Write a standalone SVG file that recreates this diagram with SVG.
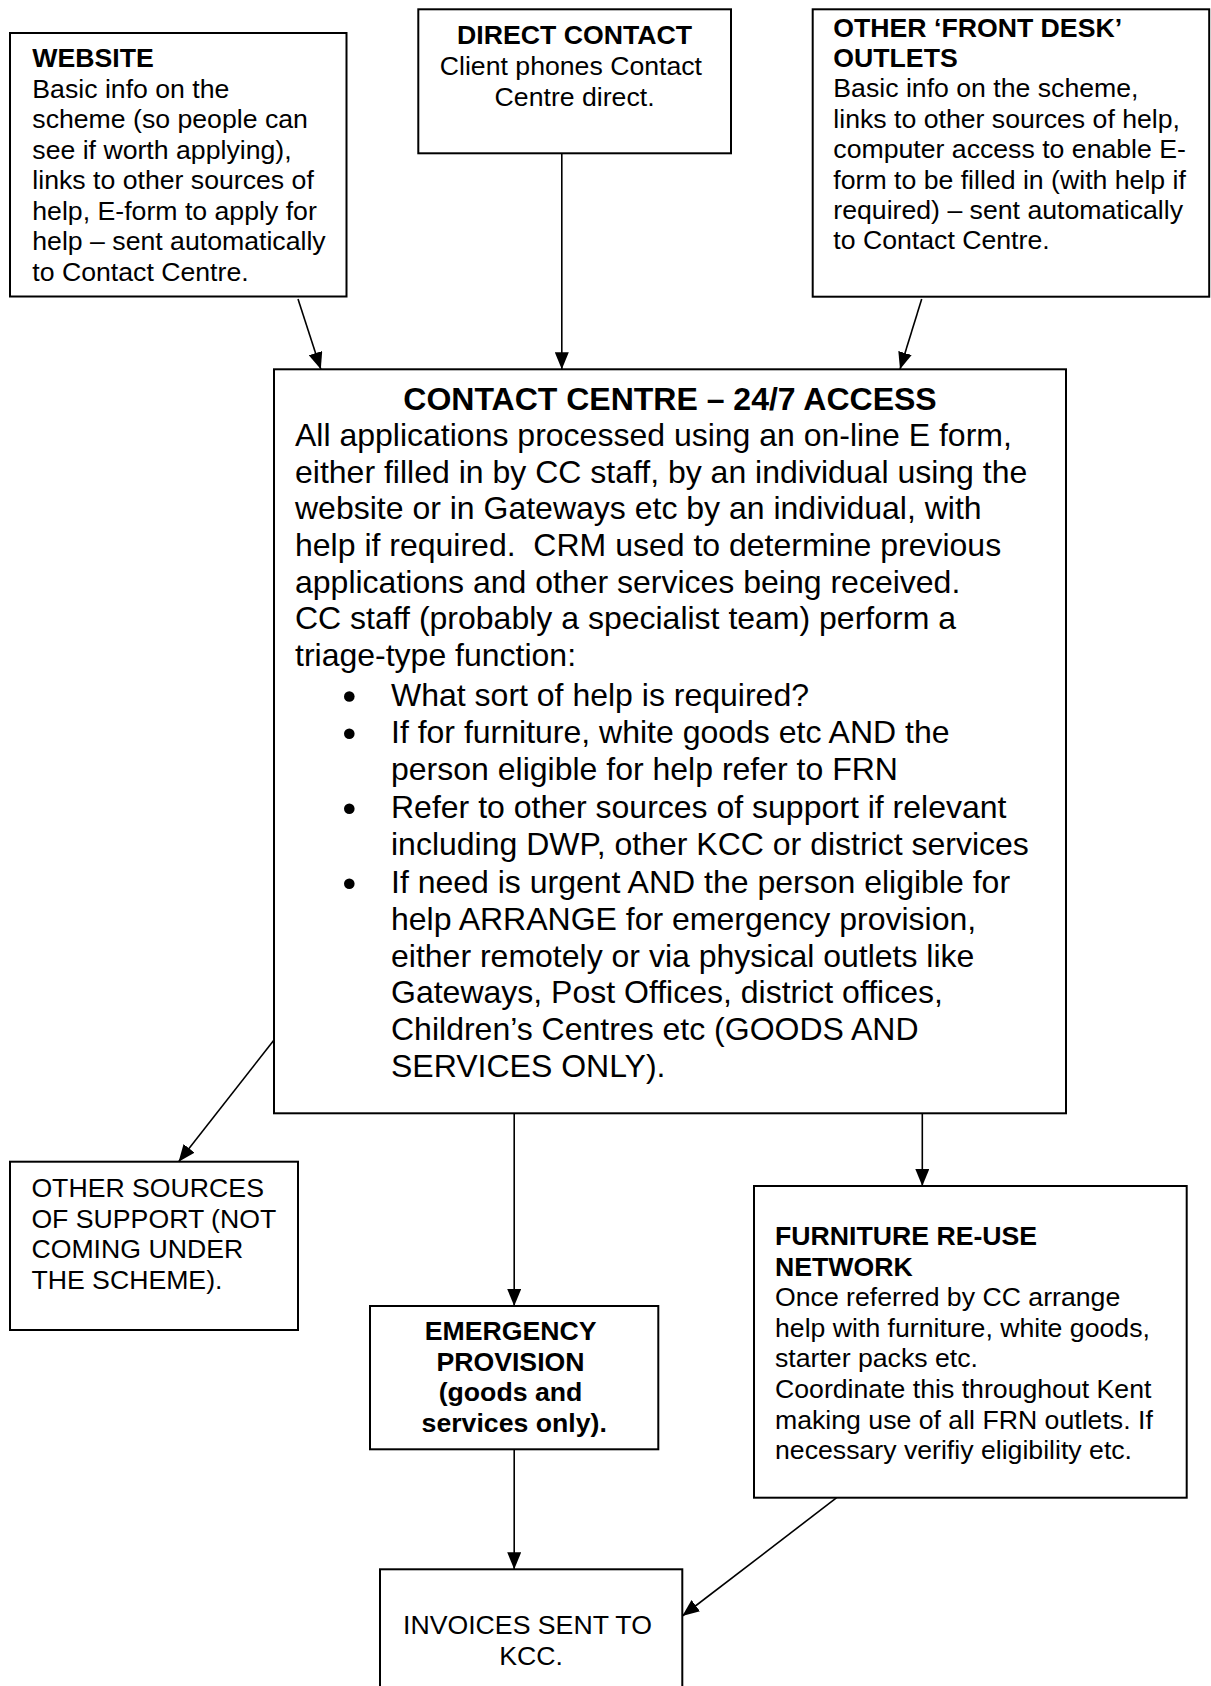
<svg xmlns="http://www.w3.org/2000/svg" width="1211" height="1686" viewBox="0 0 1211 1686">
<defs>
<marker id="ah" markerWidth="17" markerHeight="14" refX="17" refY="7" orient="auto" markerUnits="userSpaceOnUse">
<path d="M0,0 L17,7 L0,14 z" fill="#000"/>
</marker>
<style>
.box{fill:#fff;stroke:#000;stroke-width:2}
.t{font-family:"Liberation Sans",Arial,sans-serif;font-size:26.67px;fill:#000}
.tb{font-family:"Liberation Sans",Arial,sans-serif;font-size:26.67px;font-weight:bold;fill:#000}
.m{font-family:"Liberation Sans",Arial,sans-serif;font-size:32px;fill:#000}
.mb{font-family:"Liberation Sans",Arial,sans-serif;font-size:32px;font-weight:bold;fill:#000}
.c{text-anchor:middle}
.conn{stroke:#000;stroke-width:1.6;fill:none;marker-end:url(#ah)}
</style>
</defs>
<rect width="1211" height="1686" fill="#fff"/>

<g id="website">
<rect class="box" x="10" y="33" width="336.5" height="263.5"/>
<text class="tb" x="32.3" y="66.7">WEBSITE</text>
<text class="t">
<tspan x="32.3" y="97.7">Basic info on the</tspan>
<tspan x="32.3" y="128.3">scheme (so people can</tspan>
<tspan x="32.3" y="158.7">see if worth applying),</tspan>
<tspan x="32.3" y="189">links to other sources of</tspan>
<tspan x="32.3" y="219.5">help, E-form to apply for</tspan>
<tspan x="32.3" y="250">help – sent automatically</tspan>
<tspan x="32.3" y="280.5">to Contact Centre.</tspan>
</text>
</g>

<g id="direct">
<rect class="box" x="418.3" y="9.3" width="312.7" height="144"/>
<text class="tb c" x="574.6" y="44.3">DIRECT CONTACT</text>
<text class="t c">
<tspan x="574.6" y="75">Client phones Contact</tspan>
<tspan x="574.6" y="105.5">Centre direct.</tspan>
</text>
</g>

<g id="frontdesk">
<rect class="box" x="812.7" y="9.3" width="396.5" height="287.4"/>
<text class="tb">
<tspan x="833.3" y="36.7">OTHER ‘FRONT DESK’</tspan>
<tspan x="833.3" y="66.9">OUTLETS</tspan>
</text>
<text class="t">
<tspan x="833.3" y="97.3">Basic info on the scheme,</tspan>
<tspan x="833.3" y="127.7">links to other sources of help,</tspan>
<tspan x="833.3" y="158.3">computer access to enable E-</tspan>
<tspan x="833.3" y="188.7">form to be filled in (with help if</tspan>
<tspan x="833.3" y="219">required) – sent automatically</tspan>
<tspan x="833.3" y="249.4">to Contact Centre.</tspan>
</text>
</g>

<g id="contactcentre">
<rect class="box" x="274" y="369.3" width="792" height="744"/>
<text class="mb c" x="670" y="410">CONTACT CENTRE – 24/7 ACCESS</text>
<text class="m">
<tspan x="295" y="446">All applications processed using an on-line E form,</tspan>
<tspan x="295" y="482.7">either filled in by CC staff, by an individual using the</tspan>
<tspan x="295" y="519.3">website or in Gateways etc by an individual, with</tspan>
<tspan x="295" y="556">help if required.&#160; CRM used to determine previous</tspan>
<tspan x="295" y="592.7">applications and other services being received.</tspan>
<tspan x="295" y="629.3">CC staff (probably a specialist team) perform a</tspan>
<tspan x="295" y="666">triage-type function:</tspan>
<tspan x="391" y="706">What sort of help is required?</tspan>
<tspan x="391" y="743.3">If for furniture, white goods etc AND the</tspan>
<tspan x="391" y="780">person eligible for help refer to FRN</tspan>
<tspan x="391" y="818.3">Refer to other sources of support if relevant</tspan>
<tspan x="391" y="855">including DWP, other KCC or district services</tspan>
<tspan x="391" y="893.3">If need is urgent AND the person eligible for</tspan>
<tspan x="391" y="930">help ARRANGE for emergency provision,</tspan>
<tspan x="391" y="966.7">either remotely or via physical outlets like</tspan>
<tspan x="391" y="1003.4">Gateways, Post Offices, district offices,</tspan>
<tspan x="391" y="1040">Children’s Centres etc (GOODS AND</tspan>
<tspan x="391" y="1076.8">SERVICES ONLY).</tspan>
</text>
<circle cx="349.3" cy="696.5" r="5.3"/>
<circle cx="349.3" cy="733.8" r="5.3"/>
<circle cx="349.3" cy="808.8" r="5.3"/>
<circle cx="349.3" cy="883.8" r="5.3"/>
</g>

<g id="othersources">
<rect class="box" x="10" y="1161.7" width="288" height="168.3"/>
<text class="t">
<tspan x="31.4" y="1197">OTHER SOURCES</tspan>
<tspan x="31.4" y="1227.5">OF SUPPORT (NOT</tspan>
<tspan x="31.4" y="1258">COMING UNDER</tspan>
<tspan x="31.4" y="1288.5">THE SCHEME).</tspan>
</text>
</g>

<g id="emergency">
<rect class="box" x="370" y="1306" width="288.3" height="143.3"/>
<text class="tb c">
<tspan x="514.2" y="1340">EMERGENCY</tspan>
<tspan x="514.2" y="1370.7">PROVISION</tspan>
<tspan x="514.2" y="1401.3">(goods and</tspan>
<tspan x="514.2" y="1431.5">services only).</tspan>
</text>
</g>

<g id="frn">
<rect class="box" x="754" y="1186" width="432.7" height="311.7"/>
<text class="tb">
<tspan x="775" y="1245">FURNITURE RE-USE</tspan>
<tspan x="775" y="1275.6">NETWORK</tspan>
</text>
<text class="t">
<tspan x="775" y="1306.2">Once referred by CC arrange</tspan>
<tspan x="775" y="1336.8">help with furniture, white goods,</tspan>
<tspan x="775" y="1367.4">starter packs etc.</tspan>
<tspan x="775" y="1398">Coordinate this throughout Kent</tspan>
<tspan x="775" y="1428.6">making use of all FRN outlets. If</tspan>
<tspan x="775" y="1459.2">necessary verifiy eligibility etc.</tspan>
</text>
</g>

<g id="invoices">
<rect class="box" x="380" y="1569.3" width="302.3" height="130"/>
<text class="t c">
<tspan x="531.2" y="1634">INVOICES SENT TO</tspan>
<tspan x="531.2" y="1664.6">KCC.</tspan>
</text>
</g>

<g id="connectors">
<line class="conn" x1="298" y1="299" x2="320.8" y2="369.3"/>
<line class="conn" x1="561.8" y1="153.3" x2="561.8" y2="369.3"/>
<line class="conn" x1="921.7" y1="299" x2="900" y2="369.3"/>
<line class="conn" x1="274" y1="1040" x2="178.6" y2="1161.7"/>
<line class="conn" x1="514.2" y1="1113.3" x2="514.2" y2="1306"/>
<line class="conn" x1="922.3" y1="1113.3" x2="922.3" y2="1186"/>
<line class="conn" x1="514.2" y1="1449.3" x2="514.2" y2="1569.3"/>
<line class="conn" x1="836.7" y1="1497.7" x2="682.3" y2="1616"/>
</g>
</svg>
